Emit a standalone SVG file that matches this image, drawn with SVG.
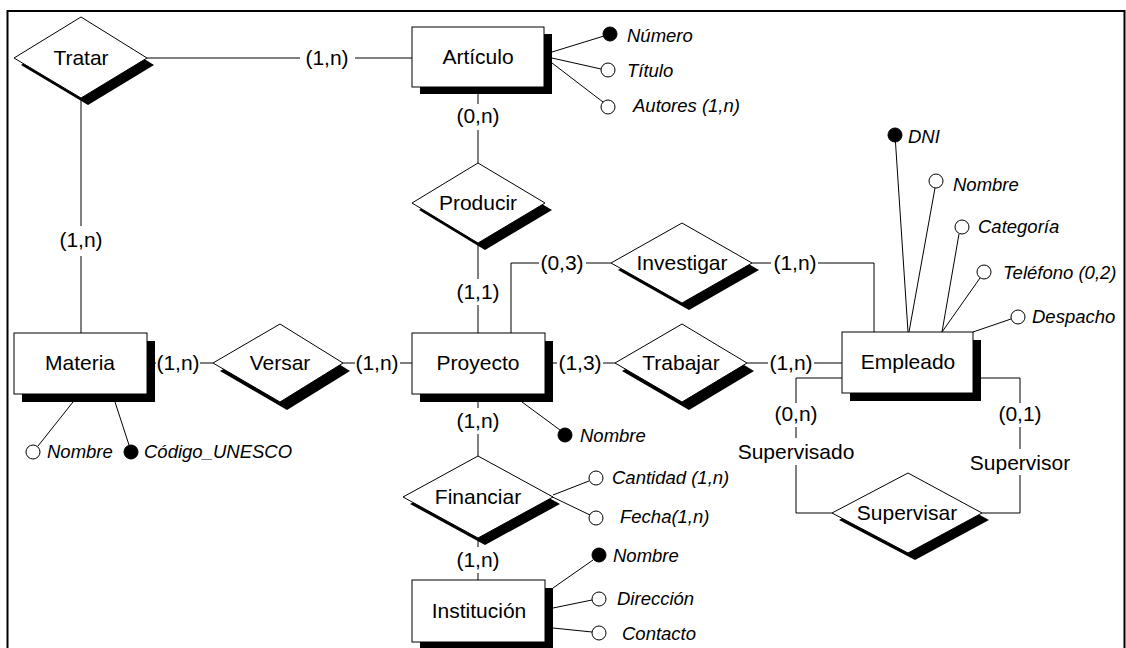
<svg xmlns="http://www.w3.org/2000/svg" width="1126" height="648" viewBox="0 0 1126 648">
<defs>
<style>
.frame{fill:none;stroke:#000;stroke-width:2}
.box{fill:#fff;stroke:#000;stroke-width:1}
.sh{fill:#000;stroke:none}
.ln{fill:none;stroke:#000;stroke-width:1}
.t{font-family:"Liberation Sans",Arial,sans-serif;font-size:21px;text-anchor:middle;fill:#000}
.a{font-family:"Liberation Sans",Arial,sans-serif;font-size:18.5px;font-style:italic;fill:#000}
.ko{fill:#fff;stroke:#000;stroke-width:1}
.kf{fill:#000;stroke:#000;stroke-width:1}
</style>
</defs>
<rect width="1126" height="648" fill="#fff"/>
<path class="frame" d="M7.5,648 V11 H1124.5 V648"/>

<g id="connectors">
  <!-- Tratar - Artículo -->
  <path class="ln" d="M147,58 H300 M355,58 H412"/>
  <text class="t" x="327" y="65">(1,n)</text>
  <!-- Tratar - Materia -->
  <path class="ln" d="M81,98 V226 M81,256 V333"/>
  <text class="t" x="81" y="247">(1,n)</text>
  <!-- Artículo - Producir -->
  <path class="ln" d="M478,87 V104 M478,130 V163"/>
  <text class="t" x="478" y="123">(0,n)</text>
  <!-- Producir - Proyecto -->
  <path class="ln" d="M478,243 V279 M478,305 V333"/>
  <text class="t" x="478" y="299">(1,1)</text>
  <!-- Proyecto - Investigar -->
  <path class="ln" d="M511,333 V263 H539 M586,263 H611"/>
  <text class="t" x="562" y="270">(0,3)</text>
  <!-- Investigar - Empleado -->
  <path class="ln" d="M752,263 H771 M818,263 H874 V332"/>
  <text class="t" x="795" y="270">(1,n)</text>
  <!-- Materia - Versar -->
  <path class="ln" d="M147,363 H156 M200,363 H213"/>
  <text class="t" x="178" y="370">(1,n)</text>
  <!-- Versar - Proyecto -->
  <path class="ln" d="M343,363 H355 M400,363 H412"/>
  <text class="t" x="377" y="370">(1,n)</text>
  <!-- Proyecto - Trabajar -->
  <path class="ln" d="M545,363 H557 M603,363 H615"/>
  <text class="t" x="580" y="370">(1,3)</text>
  <!-- Trabajar - Empleado -->
  <path class="ln" d="M747,363 H768 M814,363 H842"/>
  <text class="t" x="791" y="370">(1,n)</text>
  <!-- Proyecto - Financiar -->
  <path class="ln" d="M478,394 V408 M478,434 V456"/>
  <text class="t" x="478" y="428">(1,n)</text>
  <!-- Financiar - Institución -->
  <path class="ln" d="M478,538 V547 M478,573 V580"/>
  <text class="t" x="478" y="567">(1,n)</text>
  <!-- Empleado - Supervisar (Supervisado) -->
  <path class="ln" d="M842,378 H796 V403 M796,427 V438 M796,465 V513 H832"/>
  <text class="t" x="796" y="421">(0,n)</text>
  <text class="t" x="796" y="459">Supervisado</text>
  <!-- Empleado - Supervisar (Supervisor) -->
  <path class="ln" d="M973,378 H1020 V403 M1020,427 V449 M1020,475 V513 H982"/>
  <text class="t" x="1020" y="421">(0,1)</text>
  <text class="t" x="1020" y="470">Supervisor</text>

  <!-- attribute links -->
  <path class="ln" d="M552,52 L604,36 M552,58 L601,69 M552,63 L603,102"/>
  <path class="ln" d="M895,135 L908,332 M935,188 L909,332 M959,234 L942,332 M980,278 L942,332 M1011,319 L973,332"/>
  <path class="ln" d="M38,446 L73,402 M129,445 L115,402"/>
  <path class="ln" d="M522,402 L560,430"/>
  <path class="ln" d="M553,495 L589,481 M540,491 L590,515"/>
  <path class="ln" d="M553,588 L593,560 M553,608 L592,600 M553,628 L592,632"/>
</g>

<g id="Tratar">
  <polygon class="sh" points="21,65 88,24 154,65 88,105"/>
  <polygon class="box" points="14,58 81,17 147,58 81,98"/>
  <text class="t" x="81" y="65">Tratar</text>
</g>
<g id="Articulo">
  <rect class="sh" x="420" y="34" width="132" height="60"/>
  <rect class="box" x="412" y="27" width="132" height="60"/>
  <text class="t" x="478" y="64">Artículo</text>
</g>
<g id="Producir">
  <polygon class="sh" points="419,210 485,170 552,210 485,250"/>
  <polygon class="box" points="412,203 478,163 545,203 478,243"/>
  <text class="t" x="478" y="210">Producir</text>
</g>
<g id="Investigar">
  <polygon class="sh" points="618,270 689,230 759,270 689,310"/>
  <polygon class="box" points="611,263 682,223 752,263 682,303"/>
  <text class="t" x="682" y="270">Investigar</text>
</g>
<g id="Materia">
  <rect class="sh" x="22" y="341" width="133" height="61"/>
  <rect class="box" x="14" y="333" width="133" height="61"/>
  <text class="t" x="80" y="370">Materia</text>
</g>
<g id="Versar">
  <polygon class="sh" points="220,371 287,332 350,371 287,410"/>
  <polygon class="box" points="213,363 280,324 343,363 280,402"/>
  <text class="t" x="280" y="370">Versar</text>
</g>
<g id="Proyecto">
  <rect class="sh" x="420" y="341" width="133" height="61"/>
  <rect class="box" x="412" y="333" width="133" height="61"/>
  <text class="t" x="478" y="370">Proyecto</text>
</g>
<g id="Trabajar">
  <polygon class="sh" points="622,371 689,332 754,371 689,410"/>
  <polygon class="box" points="615,363 682,324 747,363 682,402"/>
  <text class="t" x="681" y="370">Trabajar</text>
</g>
<g id="Empleado">
  <rect class="sh" x="850" y="340" width="131" height="61"/>
  <rect class="box" x="842" y="332" width="131" height="61"/>
  <text class="t" x="908" y="369">Empleado</text>
</g>
<g id="Supervisar">
  <polygon class="sh" points="839,520 915,480 989,520 915,560"/>
  <polygon class="box" points="832,513 908,473 982,513 908,553"/>
  <text class="t" x="907" y="520">Supervisar</text>
</g>
<g id="Financiar">
  <polygon class="sh" points="410,504 485,463 560,504 485,545"/>
  <polygon class="box" points="403,497 478,456 553,497 478,538"/>
  <text class="t" x="478" y="504">Financiar</text>
</g>
<g id="Institucion">
  <rect class="sh" x="420" y="588" width="133" height="62"/>
  <rect class="box" x="412" y="580" width="133" height="62"/>
  <text class="t" x="479" y="618">Institución</text>
</g>

<g id="attr-articulo">
  <circle class="kf" cx="610" cy="34" r="7"/><text class="a" x="627" y="42">Número</text>
  <circle class="ko" cx="608" cy="70" r="7"/><text class="a" x="627" y="77">Título</text>
  <circle class="ko" cx="608" cy="107" r="7"/><text class="a" x="633" y="112">Autores (1,n)</text>
</g>
<g id="attr-empleado">
  <circle class="kf" cx="895" cy="135" r="7"/><text class="a" x="908" y="143">DNI</text>
  <circle class="ko" cx="936" cy="181" r="7"/><text class="a" x="953" y="191">Nombre</text>
  <circle class="ko" cx="962" cy="227" r="7"/><text class="a" x="978" y="233">Categoría</text>
  <circle class="ko" cx="984" cy="272" r="7"/><text class="a" x="1003" y="279">Teléfono (0,2)</text>
  <circle class="ko" cx="1018" cy="317" r="7"/><text class="a" x="1032" y="323">Despacho</text>
</g>
<g id="attr-materia">
  <circle class="ko" cx="33" cy="452" r="7"/><text class="a" x="47" y="458">Nombre</text>
  <circle class="kf" cx="131" cy="452" r="7"/><text class="a" x="144" y="458">Código_UNESCO</text>
</g>
<g id="attr-proyecto">
  <circle class="kf" cx="565" cy="435" r="7"/><text class="a" x="580" y="442">Nombre</text>
</g>
<g id="attr-financiar">
  <circle class="ko" cx="596" cy="478" r="7"/><text class="a" x="612" y="484">Cantidad (1,n)</text>
  <circle class="ko" cx="596" cy="518" r="7"/><text class="a" x="620" y="523">Fecha(1,n)</text>
</g>
<g id="attr-institucion">
  <circle class="kf" cx="599" cy="555" r="7"/><text class="a" x="613" y="562">Nombre</text>
  <circle class="ko" cx="599" cy="599" r="7"/><text class="a" x="617" y="605">Dirección</text>
  <circle class="ko" cx="599" cy="633" r="7"/><text class="a" x="622" y="640">Contacto</text>
</g>
</svg>
